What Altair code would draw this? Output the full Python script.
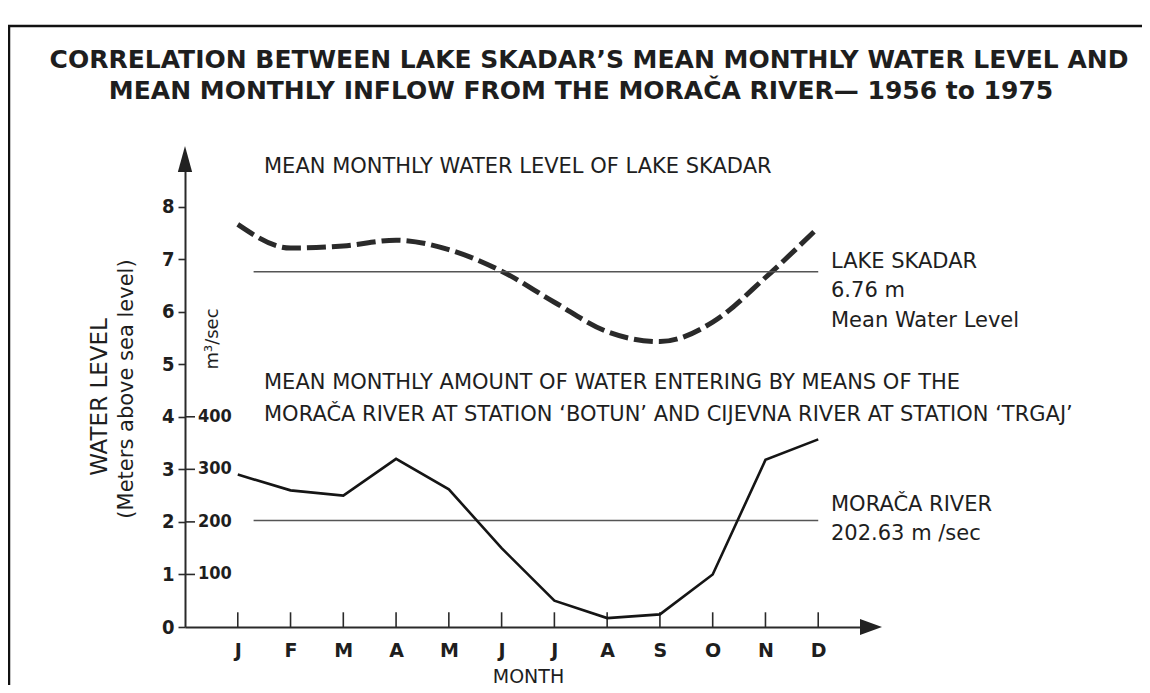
import altair as alt
import pandas as pd

# ---- data ----
month_letters = ["J", "F", "M", "A", "M", "J", "J", "A", "S", "O", "N", "D"]
month_num = list(range(1, 13))
lake_level_m = [7.66, 7.21, 7.25, 7.36, 7.18, 6.77, 6.18, 5.62, 5.43, 5.80, 6.65, 7.60]
inflow_m3s = [290, 260, 250, 320, 262, 150, 50, 17, 24, 100, 318, 357]
lake_mean_m = 6.76
inflow_mean_m3s = 202.63
level_ticks = [0, 1, 2, 3, 4, 5, 6, 7, 8]
flow_ticks = [100, 200, 300, 400]

df = pd.DataFrame({"m": month_num, "lake": lake_level_m, "flow": inflow_m3s})
flow_df = pd.DataFrame({"flow": flow_ticks})

INK = "#1e1e1e"
FONT = "DejaVu Sans"
NUMFONT = "DejaVu Sans Condensed, Liberation Sans Narrow, DejaVu Sans"

W, H = 686, 473
XMAX, YMAX = 13, 9

xscale = alt.Scale(domain=[0, XMAX], nice=False, zero=False)
yscale = alt.Scale(domain=[0, YMAX], nice=False, zero=False)

letters_js = "[" + ",".join("'" + s + "'" for s in month_letters) + "]"

x_axis = alt.Axis(
    values=month_num,
    labelExpr=letters_js + "[datum.value - 1]",
    ticks=False, tickSize=0, grid=False,
    domain=True, domainColor="#2a2a2a", domainWidth=2,
    labelFont=FONT, labelFontSize=19, labelFontWeight="bold", labelColor=INK,
    labelPadding=14,
    title="MONTH", titleFont=FONT, titleFontSize=19, titleFontWeight="normal",
    titleColor=INK, titlePadding=7,
)

left_axis = alt.Axis(
    orient="left", values=level_ticks, format="d",
    grid=False, domain=True, domainColor="#2a2a2a", domainWidth=2,
    tickSize=7, tickWidth=1.6, tickColor="#2a2a2a",
    labelFont=NUMFONT, labelFontSize=20, labelFontWeight="bold", labelColor=INK,
    labelPadding=4, title=None,
)


def X(field):
    return alt.X(field, scale=xscale, axis=x_axis, title="MONTH")


def Y(field):
    return alt.Y(field, scale=yscale, axis=left_axis, title=None)


base = alt.Chart(df)

lake_line = base.mark_line(
    color="#2a2a2a", strokeWidth=5, strokeDash=[19, 6], interpolate="monotone"
).encode(x=X("m:Q"), y=Y("lake:Q"))

river_line = base.transform_calculate(flow_m="datum.flow / 100").mark_line(
    color="#151515", strokeWidth=2.6
).encode(x=X("m:Q"), y=Y("flow_m:Q"))

# secondary (m3/sec) scale drawn on the right side of the vertical axis
flow_tick_marks = alt.Chart(flow_df).transform_calculate(
    fm="datum.flow / 100"
).mark_rule(color="#2a2a2a", strokeWidth=1.6).encode(
    x=alt.value(0), x2=alt.value(10), y=Y("fm:Q"),
)
flow_tick_labels = alt.Chart(flow_df).transform_calculate(
    fm="datum.flow / 100"
).mark_text(
    align="left", baseline="middle", font=NUMFONT, fontSize=18,
    fontWeight="bold", color=INK,
).encode(
    x=alt.value(13), y=Y("fm:Q"), text=alt.Text("flow:Q", format="d"),
)

one = pd.DataFrame({"k": [0]})

lake_mean_rule = alt.Chart(one).transform_calculate(
    a="1.3", b="12", c=str(lake_mean_m)
).mark_rule(color="#555", strokeWidth=1.4).encode(
    x=X("a:Q"), x2="b:Q", y=Y("c:Q"),
)
river_mean_rule = alt.Chart(one).transform_calculate(
    a="1.3", b="12", c=str(inflow_mean_m3s / 100)
).mark_rule(color="#555", strokeWidth=1.4).encode(
    x=X("a:Q"), x2="b:Q", y=Y("c:Q"),
)

month_ticks = base.transform_calculate(z="0", t="0.28").mark_rule(
    color="#2a2a2a", strokeWidth=1.6
).encode(x=X("m:Q"), y=Y("z:Q"), y2="t:Q")

x_arrow = alt.Chart(one).transform_calculate(a=str(XMAX), b="0").mark_point(
    shape="M1,0L-1,-0.72L-1,0.72Z", size=484, filled=True, color="#222", opacity=1
).encode(x=X("a:Q"), y=Y("b:Q"))

y_arrow = alt.Chart(one).transform_calculate(a="0", b=str(YMAX)).mark_point(
    shape="M0,-1L0.55,1L-0.55,1Z", size=676, filled=True, color="#222", opacity=1,
    yOffset=5,
).encode(x=X("a:Q"), y=Y("b:Q"))

# frame of the scanned page (top and left edges)
frame_left = alt.Chart(one).mark_rule(color="#111", strokeWidth=2.5).encode(
    x=alt.value(-176), y=alt.value(-128), y2=alt.value(531)
)
frame_top = alt.Chart(one).mark_rule(color="#111", strokeWidth=2.5).encode(
    x=alt.value(-177), x2=alt.value(957), y=alt.value(-128)
)


def label(txt, x, y, size=21, align="left", angle=0, weight="normal",
          font=FONT, baseline="alphabetic"):
    return alt.Chart(pd.DataFrame({"t": [txt]})).mark_text(
        fontSize=size, align=align, baseline=baseline, angle=angle,
        font=font, fontWeight=weight, color=INK,
    ).encode(text="t:N", x=alt.value(x), y=alt.value(y))


texts = [
    label("CORRELATION BETWEEN LAKE SKADAR\u2019S MEAN MONTHLY WATER LEVEL AND",
          404, -86, size=25, align="center", weight="bold"),
    label("MEAN MONTHLY INFLOW FROM THE MORA\u010cA RIVER\u2014 1956 to 1975",
          396, -55, size=25, align="center", weight="bold"),
    label("MEAN MONTHLY WATER LEVEL OF LAKE SKADAR", 79, 19),
    label("MEAN MONTHLY AMOUNT OF WATER ENTERING BY MEANS OF THE", 79, 235),
    label("MORA\u010cA RIVER AT STATION \u2018BOTUN\u2019 AND CIJEVNA RIVER AT STATION \u2018TRGAJ\u2019",
          79, 267),
    label("LAKE SKADAR", 646, 114),
    label("6.76 m", 646, 143),
    label("Mean Water Level", 646, 173),
    label("MORA\u010cA RIVER", 646, 357),
    label("202.63 m  /sec", 646, 386),
    label("WATER LEVEL", -85, 243, size=23, align="center", angle=270, baseline="middle"),
    label("(Meters above sea level)", -58, 235, size=21, align="center", angle=270,
          baseline="middle"),
    label("m\u00b3/sec", 28, 185, size=18, align="center", angle=270, baseline="middle"),
]

chart = alt.layer(
    frame_left, frame_top,
    lake_line, lake_mean_rule, river_mean_rule, month_ticks,
    river_line, flow_tick_marks, flow_tick_labels, x_arrow, y_arrow, *texts,
).properties(
    width=W, height=H,
    padding={"left": 177, "top": 146, "right": 271, "bottom": 58},
    autosize=alt.AutoSizeParams(type="none"),
    background="white",
).configure_view(stroke=None)

chart.save("out.html", embed_options={"renderer": "svg", "actions": False})
